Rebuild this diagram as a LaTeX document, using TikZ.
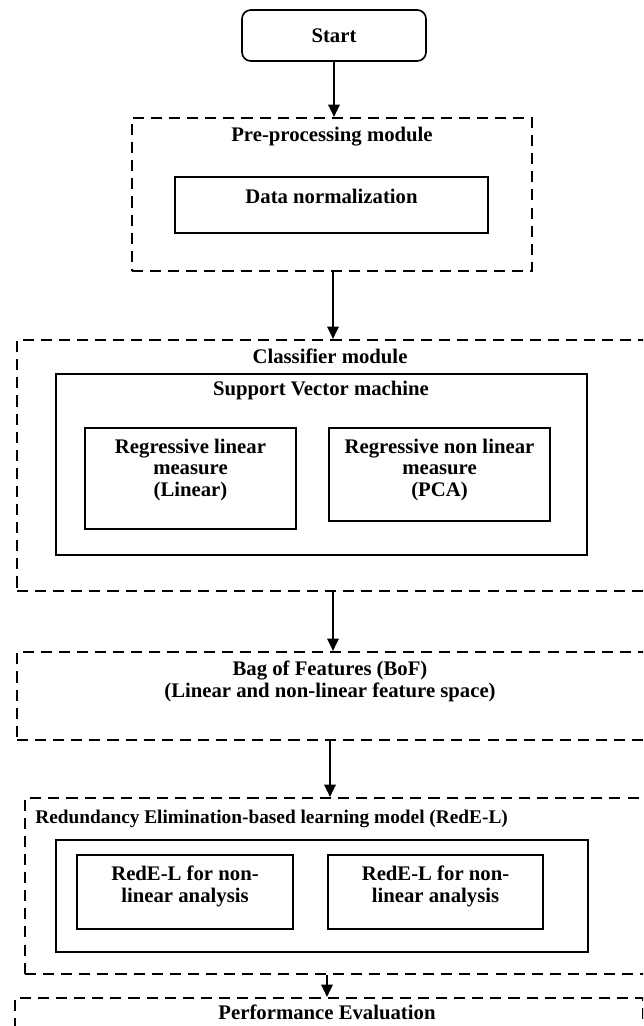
\documentclass[tikz,border=0pt]{standalone}
\usepackage{fontspec}
\setmainfont{Liberation Serif}
\usetikzlibrary{arrows.meta}
\def\pu{0.02cm}
\begin{document}
\begin{tikzpicture}[x=0.02cm,y=-0.02cm,
  dbox/.style={draw, line width=1.25pt, dash pattern=on 6.3pt off 4pt, inner sep=0pt},
  sbox/.style={draw, line width=0.95pt, inner sep=0pt},
  lbl/.style={font=\fontsize{11.8}{12.2}\selectfont\bfseries, align=center, inner sep=0pt},
  slbl/.style={font=\fontsize{11}{12}\selectfont\bfseries, align=left, inner sep=0pt},
  arr/.style={line width=1pt, -{Triangle[length=7pt,width=6.5pt]}},
]
\clip (0,0) rectangle (643,1026);
% Start
\node[sbox, rounded corners=5pt, minimum width=184*\pu, minimum height=51*\pu, lbl] (start) at (334,35.5) {Start};
% Pre-processing
\node[dbox, minimum width=400*\pu, minimum height=153*\pu] (pre) at (332,194.5) {};
\node[lbl] (pretitle) at (332,137) {Pre-processing module};
\node[sbox, minimum width=313*\pu, minimum height=56*\pu] (data) at (331.5,205) {};
\node[lbl] (datatext) at (331.5,196) {Data normalization};
% Classifier
\node[dbox, minimum width=643*\pu, minimum height=251*\pu] (cls) at (338.5,465.5) {};
\node[lbl] (clstitle) at (330,356) {Classifier module};
\node[sbox, minimum width=531*\pu, minimum height=181*\pu] (svm) at (321.5,464.5) {};
\node[lbl] (svmtitle) at (321,391) {Support Vector machine};
\node[sbox, minimum width=211*\pu, minimum height=101*\pu] (in1) at (190.5,478.5) {};
\node[lbl] (in1text) at (190.5,470) {Regressive linear\\measure\\(Linear)};
\node[sbox, minimum width=221*\pu, minimum height=93*\pu] (in2) at (439.5,474.5) {};
\node[lbl] (in2text) at (439.5,470) {Regressive non linear\\measure\\(PCA)};
% BoF
\node[dbox, minimum width=643*\pu, minimum height=88*\pu] (bof) at (338.5,696) {};
\node[lbl] (boftext) at (330,681.5) {Bag of Features (BoF)\\(Linear and non-linear feature space)};
% RedE-L
\node[dbox, minimum width=635*\pu, minimum height=176*\pu] (red) at (342.5,886) {};
\node[slbl, anchor=west] (redtitle) at (35,819) {Redundancy Elimination-based learning model (RedE-L)};
\node[sbox, minimum width=532*\pu, minimum height=112*\pu] (redo) at (322,896) {};
\node[sbox, minimum width=216*\pu, minimum height=74*\pu] (r1) at (185,892) {};
\node[lbl] (r1text) at (185,886.5) {RedE-L for non-\\linear analysis};
\node[sbox, minimum width=215*\pu, minimum height=74*\pu] (r2) at (435.5,892) {};
\node[lbl] (r2text) at (435.5,886.5) {RedE-L for non-\\linear analysis};
% Performance
\node[dbox, minimum width=628.5*\pu, minimum height=80*\pu] (perf) at (329.25,1038) {};
\node[lbl] (perftext) at (327,1012) {Performance Evaluation};
% Connectors
\draw[arr] (start.south) -- (start.south |- pre.north);
\draw[arr] (333,0 |- pre.south) -- (333,0 |- cls.north);
\draw[arr] (333,0 |- cls.south) -- (333,0 |- bof.north);
\draw[arr] (330,0 |- bof.south) -- (330,0 |- red.north);
\draw[arr] (327,0 |- red.south) -- (327,0 |- perf.north);
\end{tikzpicture}
\end{document}
